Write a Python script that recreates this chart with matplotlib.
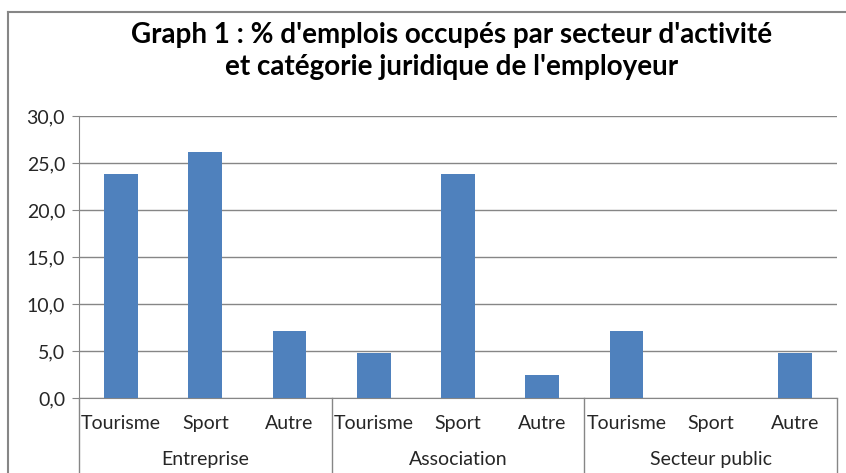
import numpy as np
import matplotlib as mpl
mpl.use('Agg')
import matplotlib.pyplot as plt
from matplotlib.lines import Line2D

# data
groups = ["Entreprise", "Association", "Secteur public"]
activities = ["Tourisme", "Sport", "Autre"]
values = [23.8, 26.2, 7.1,
          4.8, 23.8, 2.4,
          7.1, 0.0, 4.8]
yticks = [0, 5, 10, 15, 20, 25, 30]

W, H = 846, 473
plt.rcParams['font.family'] = ['Lato', 'DejaVu Sans']
fig = plt.figure(figsize=(W / 100, H / 100), dpi=100)

# chart border (cropped at right and bottom in the reference)
edge = '#868686'
fig.add_artist(Line2D([8 / W, 1], [1 - 12 / H, 1 - 12 / H], color=edge, lw=1.5))
fig.add_artist(Line2D([8 / W, 8 / W], [0, 1 - 12 / H], color=edge, lw=1.5))

left, right, top, bottom = 79, 837, 116, 398
ax = fig.add_axes([left / W, 1 - bottom / H, (right - left) / W, (bottom - top) / H])

x = np.arange(len(values))
ax.bar(x, values, width=0.4, color='#4F81BD', zorder=3)

fs = 14
ax.set_xlim(-0.5, len(values) - 0.5)
ax.set_ylim(0, 30)
ax.set_yticks(yticks)
ax.set_yticklabels(["{0:.1f}".format(v).replace('.', ',') for v in yticks],
                   fontsize=fs, color='#262626')
ax.tick_params(axis='y', length=5, color=edge, pad=5)
ax.yaxis.grid(True, color=edge, lw=1)
ax.set_axisbelow(True)
for s in ['top', 'right']:
    ax.spines[s].set_visible(False)
ax.spines['left'].set_color(edge)
ax.spines['bottom'].set_color(edge)
ax.set_xticks([])

# two-level category axis
trans = ax.get_xaxis_transform()
for i, v in enumerate(values):
    ax.text(i, -25 / 282, activities[i % 3], transform=trans, ha='center', va='center',
            fontsize=fs, color='#262626')
for g, name in enumerate(groups):
    ax.text(g * 3 + 1, -61 / 282, name, transform=trans, ha='center', va='center',
            fontsize=fs, color='#262626')
for b in [-0.5, 2.5, 5.5, 8.5]:
    ax.add_line(Line2D([b, b], [0, -80 / 282], transform=trans, color=edge, lw=1,
                       clip_on=False))

fig.text(452 / W, 1 - 35 / H, "Graph 1 : % d'emplois occupés par secteur d'activité",
         ha='center', va='center', fontsize=20, fontweight='bold')
fig.text(452 / W, 1 - 67 / H, "et catégorie juridique de l'employeur",
         ha='center', va='center', fontsize=20, fontweight='bold')

fig.savefig('out.png', dpi=100)
